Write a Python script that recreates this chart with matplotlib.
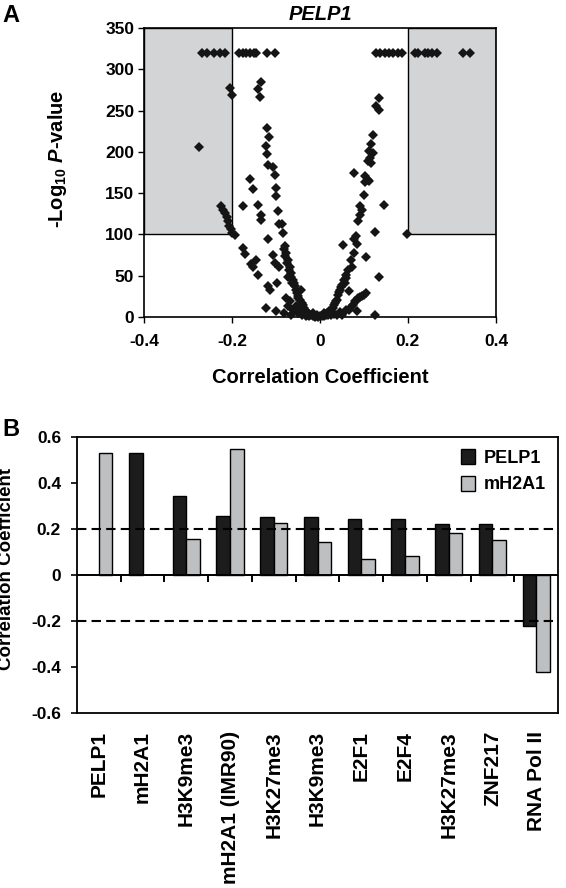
import numpy as np
import matplotlib
matplotlib.use("Agg")
import matplotlib.pyplot as plt
from matplotlib.patches import Rectangle

plt.rcParams['font.family'] = ['Liberation Sans', 'DejaVu Sans']
plt.rcParams['font.weight'] = 'bold'
plt.rcParams['axes.labelweight'] = 'bold'
plt.rcParams['axes.titleweight'] = 'bold'
plt.rcParams['axes.unicode_minus'] = False
plt.rcParams['mathtext.fontset'] = 'custom'
plt.rcParams['mathtext.rm'] = 'Liberation Sans:bold'
plt.rcParams['mathtext.it'] = 'Liberation Sans:bold:italic'
plt.rcParams['mathtext.bf'] = 'Liberation Sans:bold'

# ---- panel A data: correlation coefficient vs -log10 P
# points capped at the top (-log10 P ~ 320)
capped_x = [-0.269, -0.256, -0.242, -0.228, -0.215, -0.184, -0.176, -0.168, -0.160,
            -0.151, -0.146, -0.121, -0.102, 0.127, 0.137, 0.147, 0.157, 0.167, 0.177,
            0.186, 0.217, 0.223, 0.238, 0.246, 0.255, 0.267, 0.326, 0.342]
capped_y = [320] * len(capped_x)

# left branch
left_x = [-0.204, -0.201, -0.274, -0.224, -0.220, -0.216, -0.212, -0.210, -0.207, -0.203,
          -0.199, -0.194, -0.176, -0.170, -0.157, -0.153, -0.146, -0.142, -0.174, -0.158,
          -0.152, -0.141, -0.135, -0.133, -0.142, -0.135, -0.137, -0.120, -0.116, -0.123,
          -0.121, -0.119, -0.106, -0.102, -0.100, -0.100, -0.096, -0.094, -0.087, -0.084,
          -0.119, -0.106, -0.102, -0.094, -0.119, -0.114, -0.098, -0.123, -0.100,
          -0.080, -0.077, -0.073, -0.069, -0.065, -0.061, -0.057, -0.053, -0.049, -0.042,
          -0.036, -0.028, -0.020, -0.012, -0.061, -0.055, -0.069, -0.077, -0.073, -0.081,
          -0.065, -0.049, -0.040, -0.032, -0.073, -0.059, -0.044,
          -0.082, -0.079, -0.075, -0.071, -0.067, -0.063, -0.055, -0.051, -0.046, -0.039,
          -0.033, -0.025, -0.016, -0.045, -0.038, -0.030, -0.024, -0.010, -0.005, 0.000]
left_y = [277, 269, 206, 135, 130, 126, 121, 116, 110, 106,
          102, 99, 83, 76, 64, 61, 69, 51, 135, 167,
          155, 136, 124, 117, 276, 285, 266, 229, 218, 207,
          197, 184, 182, 172, 156, 146, 128, 113, 113, 102,
          94, 75, 65, 61, 37, 33, 41, 11, 7,
          86, 78, 69, 61, 53, 45, 37, 29, 23, 17,
          11, 5, 2, 0, 9, 13, 19, 23, 13, 5,
          3, 5, 3, 1, 49, 41, 33,
          82, 74, 66, 57, 49, 41, 33, 26, 20, 14,
          9, 4, 1, 8, 6, 3, 1, 1, 0, 1]

# right branch
right_x = [0.135, 0.127, 0.133, 0.120, 0.116, 0.112, 0.120, 0.114, 0.108, 0.116,
           0.077, 0.102, 0.108, 0.103, 0.112, 0.101, 0.145, 0.091, 0.095, 0.091,
           0.087, 0.124, 0.197, 0.081, 0.077, 0.083, 0.053, 0.077, 0.104, 0.071,
           0.073, 0.063, 0.058, 0.134, 0.054, 0.050, 0.067, 0.046, 0.042, 0.038,
           0.034, 0.029, 0.021, 0.013, 0.005, 0.104, 0.095, 0.087, 0.079, 0.075,
           0.083, 0.124, 0.058, 0.050, 0.038, 0.026, 0.009, -0.007, -0.016,
           0.099, 0.091, 0.083, 0.071, 0.066, 0.045, 0.032, 0.018, 0.010, 0.060,
           0.056, 0.048, 0.044, 0.036, 0.031, 0.024, 0.016]
right_y = [265, 255, 251, 221, 209, 201, 198, 193, 189, 187,
           174, 171, 166, 163, 165, 148, 136, 134, 130, 124,
           116, 103, 100, 98, 94, 88, 87, 78, 73, 69,
           61, 57, 51, 49, 45, 39, 31, 33, 27, 21,
           17, 11, 7, 3, 1, 29, 26, 23, 19, 15,
           7, 3, 9, 3, 2, 3, 5, 3, 5,
           27, 24, 21, 12, 9, 6, 4, 2, 1, 47,
           41, 36, 30, 19, 14, 9, 5]

r_cut = 0.2
p_cut = 100

# ---- panel B data
categories = ['PELP1', 'mH2A1', 'H3K9me3', 'mH2A1 (IMR90)', 'H3K27me3', 'H3K9me3',
              'E2F1', 'E2F4', 'H3K27me3', 'ZNF217', 'RNA Pol II']
pelp1_vals = [np.nan, 0.53, 0.345, 0.255, 0.252, 0.252, 0.243, 0.243, 0.224, 0.22, -0.221]
mh2a1_vals = [0.53, np.nan, 0.156, 0.55, 0.228, 0.143, 0.068, 0.085, 0.185, 0.153, -0.421]

gray = '#d3d4d6'
bar_gray = '#bebfc1'

fig = plt.figure(figsize=(5.66, 8.88), dpi=100)

# ---------------- panel A
ax1 = fig.add_axes([0.2544, 0.643, 0.6219, 0.3255])
ax1.add_patch(Rectangle((-0.4, p_cut), 0.4 - r_cut, 350 - p_cut, fc=gray, ec='k', lw=1, zorder=1))
ax1.add_patch(Rectangle((r_cut, p_cut), 0.4 - r_cut, 350 - p_cut, fc=gray, ec='k', lw=1, zorder=1))
all_x = capped_x + left_x + right_x
all_y = capped_y + left_y + right_y
ax1.plot(all_x, all_y, 'D', ms=5, color='#151515', mew=0, clip_on=False, zorder=3)
ax1.set_xlim(-0.4, 0.4)
ax1.set_ylim(0, 350)
ax1.set_xticks([-0.4, -0.2, 0, 0.2, 0.4])
ax1.set_xticklabels(['-0.4', '-0.2', '0', '0.2', '0.4'])
ax1.set_yticks(np.arange(0, 351, 50))
ax1.tick_params(direction='out', length=4, width=1, labelsize=12.5)
ax1.tick_params(axis='x', pad=8)
ax1.tick_params(axis='y', pad=3)
for s in ax1.spines.values():
    s.set_linewidth(1.2)
ax1.set_title('PELP1', style='italic', fontsize=14.5, fontweight='bold', pad=6)
ax1.set_xlabel('Correlation Coefficient', fontsize=14.5, labelpad=14)
ax1.set_ylabel('-Log$_{10}$ $\\it{P}$-value', fontsize=14.5)
ax1.yaxis.set_label_coords(-0.213, 0.547)

# ---------------- panel B
ax2 = fig.add_axes([0.136, 0.197, 0.850, 0.3108])
idx = np.arange(len(categories))
bw = 0.31
ax2.bar(idx + 0.5 - bw / 2, pelp1_vals, bw, color='#1c1c1c', ec='k', lw=1, label='PELP1', zorder=2)
ax2.bar(idx + 0.5 + bw / 2, mh2a1_vals, bw, color=bar_gray, ec='k', lw=1, label='mH2A1', zorder=2)
ax2.axhline(0, color='k', lw=1.4, zorder=3)
for thr in (r_cut, -r_cut):
    ax2.axhline(thr, color='k', lw=1.5, dashes=(4.5, 2.5), zorder=4)
ax2.vlines(idx[1:], -0.028, 0, color='k', lw=1.4, zorder=3)
ax2.set_xlim(0, len(categories))
ax2.set_ylim(-0.6, 0.6)
yt = [-0.6, -0.4, -0.2, 0, 0.2, 0.4, 0.6]
ax2.set_yticks(yt)
ax2.set_yticklabels(['-0.6', '-0.4', '-0.2', '0', '0.2', '0.4', '0.6'])
ax2.tick_params(axis='y', direction='out', length=4.5, width=1.2, labelsize=12.5, pad=7)
ax2.set_xticks(idx + 0.5)
ax2.set_xticklabels(categories, rotation=90, fontsize=15)
ax2.tick_params(axis='x', length=0, pad=13)
for s in ax2.spines.values():
    s.set_linewidth(1.3)
ax2.set_ylabel('Correlation Coefficient', fontsize=13.5)
ax2.yaxis.set_label_coords(-0.128, 0.522)
ax2.legend(loc='upper right', frameon=False, fontsize=13, handlelength=0.8,
           handleheight=0.9, handletextpad=0.5, labelspacing=0.5, borderaxespad=0.25)

fig.text(0.004, 0.983, 'A', fontsize=17, fontweight='bold', va='center')
fig.text(0.004, 0.516, 'B', fontsize=17, fontweight='bold', va='center')

fig.savefig('out.png', dpi=100)
